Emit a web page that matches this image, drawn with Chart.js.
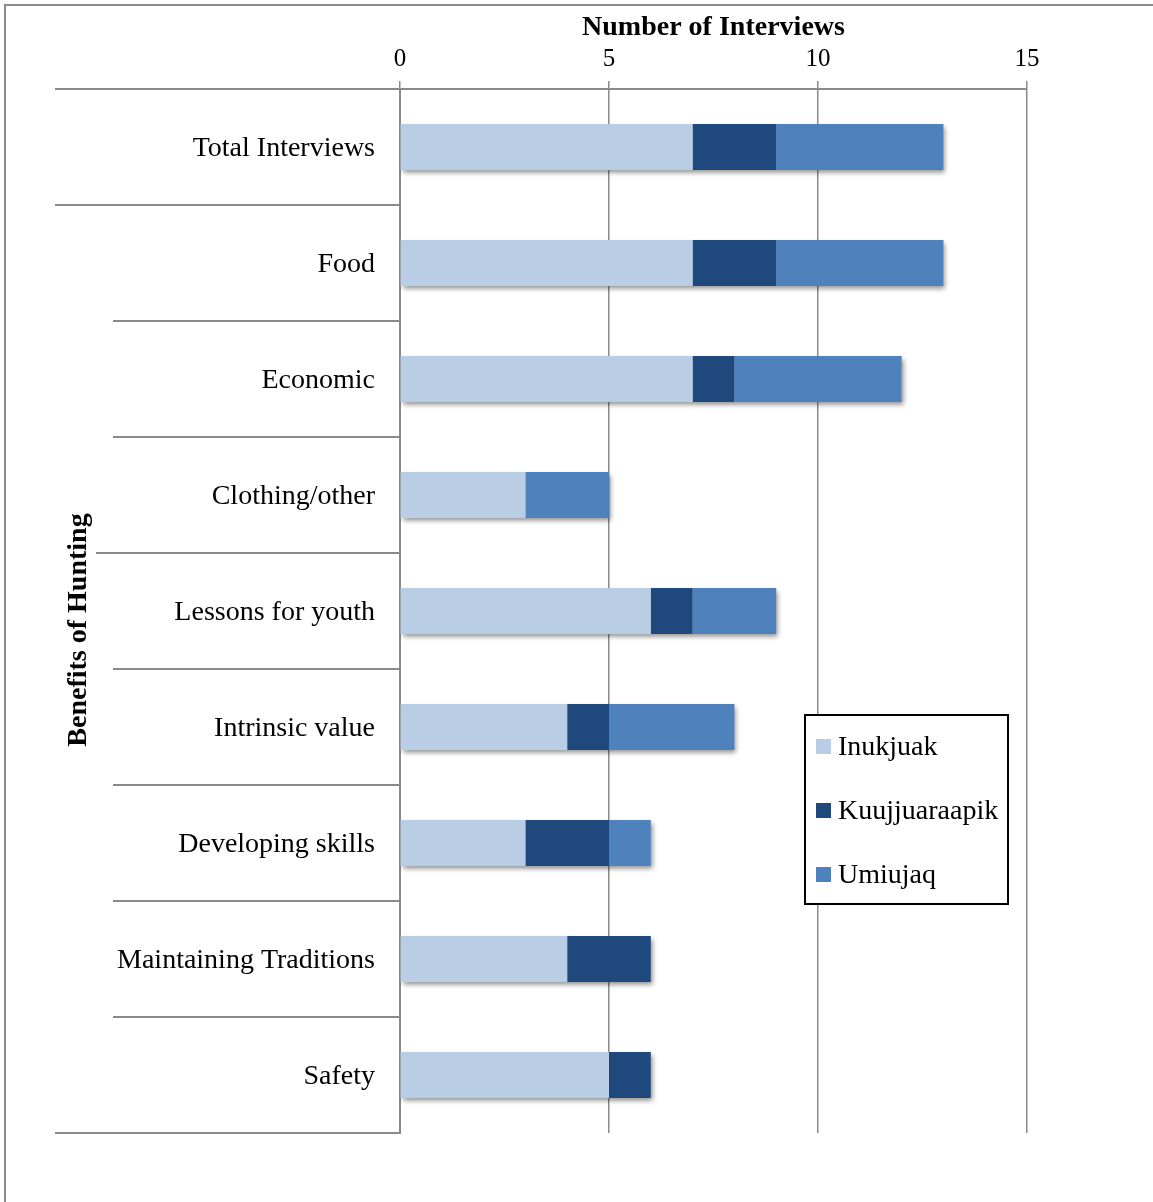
<!DOCTYPE html>
<html><head><meta charset="utf-8">
<script src="https://cdn.jsdelivr.net/npm/chart.js@4"></script>
<style>html,body{margin:0;padding:0;background:#fff}#wrap{width:1153px;height:1202px;position:relative}</style>
</head><body><div id="wrap"><canvas id="c" width="1153" height="1202"></canvas></div>
<script>
const categories = ['Total Interviews','Food','Economic','Clothing/other','Lessons for youth','Intrinsic value','Developing skills','Maintaining Traditions','Safety'];
const inukjuak = [7,7,7,3,6,4,3,4,5];
const kuujjuaraapik = [2,2,1,0,1,1,2,2,1];
const umiujaq = [4,4,4,2,2,3,1,0,0];
const seriesNames = ['Inukjuak','Kuujjuaraapik','Umiujaq'];
const xTicks = [0,5,10,15];
const xTitle = 'Number of Interviews';
const yTitle = 'Benefits of Hunting';

const FONT = "'Liberation Serif', 'Times New Roman', serif";
const COLORS = ['#B9CDE5','#1F497D','#4F81BD'];
const GRID = '#8a8a8a';
Chart.defaults.font.family = FONT;
Chart.defaults.color = '#000';

const sepStart = [55,55,113,113,96,113,113,113,113,55];

const decor = {
  id:'decor',
  beforeDraw(chart){
    const ctx = chart.ctx;
    ctx.save();
    ctx.strokeStyle = GRID; ctx.lineWidth = 2;
    ctx.beginPath(); ctx.moveTo(5,1202); ctx.lineTo(5,5); ctx.lineTo(1153,5); ctx.stroke();
    ctx.restore();
  },
  beforeDatasetsDraw(chart){
    const ctx = chart.ctx;
    const metas = chart.getSortedVisibleDatasetMetas();
    categories.forEach((c,i)=>{
      let l=Infinity,r=-Infinity,t=0,b=0;
      metas.forEach(m=>{
        const el=m.data[i]; if(!el) return;
        const a=Math.min(el.x,el.base), z=Math.max(el.x,el.base);
        if(z-a<0.5) return;
        l=Math.min(l,a); r=Math.max(r,z); t=el.y-el.height/2; b=el.y+el.height/2;
      });
      if(!isFinite(l)) return;
      ctx.save();
      ctx.shadowColor='rgba(0,0,0,0.45)'; ctx.shadowBlur=5; ctx.shadowOffsetX=2; ctx.shadowOffsetY=3;
      ctx.fillStyle=COLORS[0];
      ctx.fillRect(l,t,r-l,b-t);
      ctx.restore();
    });
  },
  afterDraw(chart){
    const ctx = chart.ctx;
    const ys = chart.scales.y;
    const n = categories.length;
    const half = (ys.getPixelForValue(1)-ys.getPixelForValue(0))/2;
    const x0 = chart.chartArea.left;
    ctx.save();
    ctx.strokeStyle = GRID; ctx.lineWidth = 2;
    for(let i=0;i<=n;i++){
      const y = Math.round(ys.getPixelForValue(Math.min(i,n-1)) + (i<n?-half:half));
      ctx.beginPath(); ctx.moveTo(sepStart[i],y); ctx.lineTo(x0,y); ctx.stroke();
    }
    // y axis title
    ctx.fillStyle='#000';
    ctx.font = "bold 28px "+FONT;
    ctx.translate(79,630); ctx.rotate(-Math.PI/2);
    ctx.textAlign='center'; ctx.textBaseline='middle';
    ctx.fillText(yTitle,0,0);
    ctx.restore();
    // legend
    ctx.save();
    ctx.fillStyle='#fff'; ctx.fillRect(805,715,203,189);
    ctx.strokeStyle='#000'; ctx.lineWidth=2; ctx.strokeRect(805,715,203,189);
    ctx.font = "28px "+FONT; ctx.textAlign='left'; ctx.textBaseline='middle';
    chart.data.datasets.forEach((ds,k)=>{
      const cy = 746 + k*64;
      ctx.fillStyle = ds.backgroundColor;
      ctx.fillRect(816,cy-7,15,15);
      ctx.fillStyle='#000';
      ctx.fillText(ds.label,838,cy+2);
    });
    ctx.restore();
  }
};

new Chart(document.getElementById('c'),{
  type:'bar',
  data:{
    labels:categories,
    datasets:[
      {label:seriesNames[0],data:inukjuak,backgroundColor:COLORS[0]},
      {label:seriesNames[1],data:kuujjuaraapik,backgroundColor:COLORS[1]},
      {label:seriesNames[2],data:umiujaq,backgroundColor:COLORS[2]}
    ]
  },
  options:{
    indexAxis:'y',
    responsive:false,
    animation:false,
    devicePixelRatio:1,
    datasets:{bar:{barPercentage:0.397,categoryPercentage:1,borderWidth:0}},
    layout:{padding:{left:0,top:0,right:126,bottom:69}},
    plugins:{legend:{display:false},tooltip:{enabled:false},title:{display:false}},
    scales:{
      x:{
        type:'linear',position:'top',min:0,max:15,stacked:true,
        afterBuildTicks(s){ s.ticks = xTicks.map(v=>({value:v})); },
        afterFit(s){ s.height = 89; },
        ticks:{padding:7,color:'#000',font:{size:25}},
        grid:{color:GRID,lineWidth:1.5,tickLength:8,drawTicks:true},
        border:{display:true,color:GRID,width:2},
        title:{display:true,text:xTitle,color:'#000',font:{size:28,weight:'bold'},padding:{top:11,bottom:0}}
      },
      y:{
        type:'category',stacked:true,
        afterFit(s){ s.width = 400; },
        grid:{display:false,drawTicks:false},
        border:{display:true,color:GRID,width:2},
        ticks:{padding:25,labelOffset:2,color:'#000',font:{size:28}}
      }
    }
  },
  plugins:[decor]
});
</script></body></html>
